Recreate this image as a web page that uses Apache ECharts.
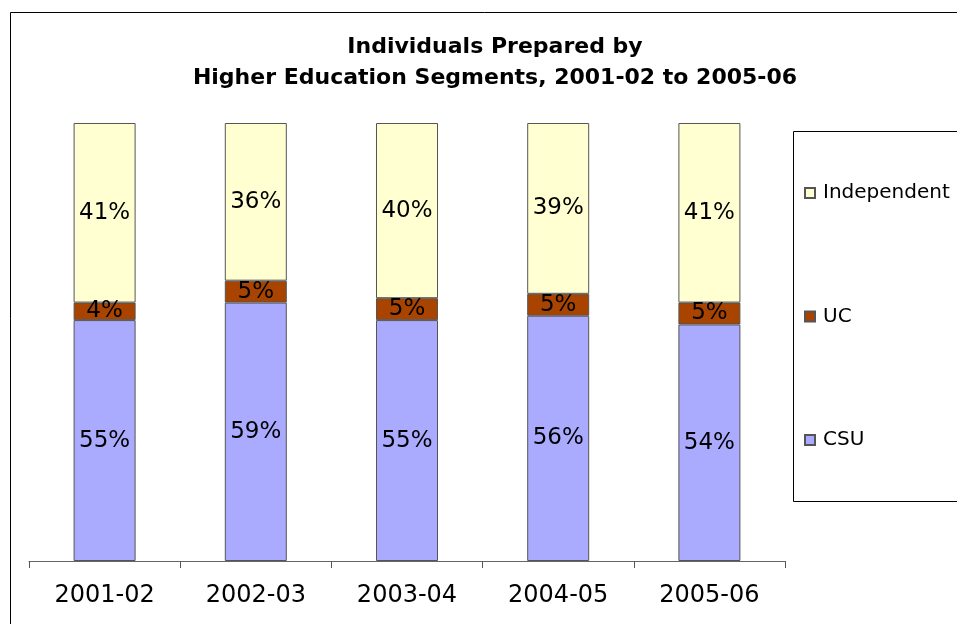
<!DOCTYPE html>
<html>
<head>
<meta charset="utf-8">
<script src="https://cdn.jsdelivr.net/npm/echarts@6/dist/echarts.min.js"></script>
<style>
  html, body { margin: 0; padding: 0; background: #fff; }
  #chart { width: 957px; height: 624px; }
</style>
</head>
<body>
<div id="chart"></div>
<script>
var years = ['2001-02', '2002-03', '2003-04', '2004-05', '2005-06'];
var csu = [55, 59, 55, 56, 54];
var uc = [4, 5, 5, 5, 5];
var independent = [41, 36, 40, 39, 41];

var myChart = echarts.init(document.getElementById('chart'));

var labelStyle = {
    show: true,
    position: 'inside',
    formatter: '{c}%',
    color: '#000',
    fontFamily: 'DejaVu Sans',
    fontSize: 23
};

function barSeries(name, data, color) {
    return {
        name: name,
        type: 'bar',
        stack: 'total',
        data: data,
        barWidth: 62,
        label: labelStyle,
        itemStyle: {
            color: color,
            borderColor: '#555',
            borderWidth: 1
        }
    };
}

option = {
    backgroundColor: '#fff',
    animation: false,
    title: {
        text: 'Individuals Prepared by\nHigher Education Segments, 2001-02 to 2005-06',
        left: 490,
        textAlign: 'center',
        top: 27,
        textStyle: {
            fontFamily: 'DejaVu Sans',
            fontWeight: 'bold',
            fontSize: 22,
            lineHeight: 31,
            color: '#000'
        }
    },
    // 图例
    legend: {
        orient: 'vertical',
        left: 799,
        top: 178,
        itemGap: 103.5,
        itemWidth: 10,
        itemHeight: 10,
        icon: 'rect',
        data: ['Independent', 'UC', 'CSU'],
        textStyle: {
            fontFamily: 'DejaVu Sans',
            fontSize: 20,
            color: '#000',
            padding: [0, 0, 0, 3]
        }
    },
    grid: {
        left: 29,
        right: 172,
        top: 123,
        bottom: 63
    },
    xAxis: {
        type: 'category',
        data: years,
        boundaryGap: true,
        axisLine: { show: true, lineStyle: { color: '#666', width: 1 } },
        axisTick: { show: true, interval: 0, alignWithLabel: false, length: 7, lineStyle: { color: '#555', width: 1 } },
        axisLabel: {
            margin: 23,
            fontFamily: 'DejaVu Sans',
            fontSize: 24,
            color: '#000'
        }
    },
    yAxis: {
        type: 'value',
        min: 0,
        max: 100,
        show: false,
        splitLine: { show: false }
    },
    graphic: [
        {
            type: 'rect',
            shape: { x: 10.5, y: 12.5, width: 1000, height: 700 },
            style: { fill: 'none', stroke: '#000', lineWidth: 1 },
            z: 0
        },
        {
            type: 'rect',
            shape: { x: 793.5, y: 131.5, width: 300, height: 370 },
            style: { fill: 'none', stroke: '#000', lineWidth: 1 },
            z: 0
        }
    ],
    series: [
        barSeries('CSU', csu, '#AAAAFF'),
        barSeries('UC', uc, '#A84400'),
        barSeries('Independent', independent, '#FFFFD2')
    ]
};
myChart.setOption(option);
</script>
</body>
</html>
